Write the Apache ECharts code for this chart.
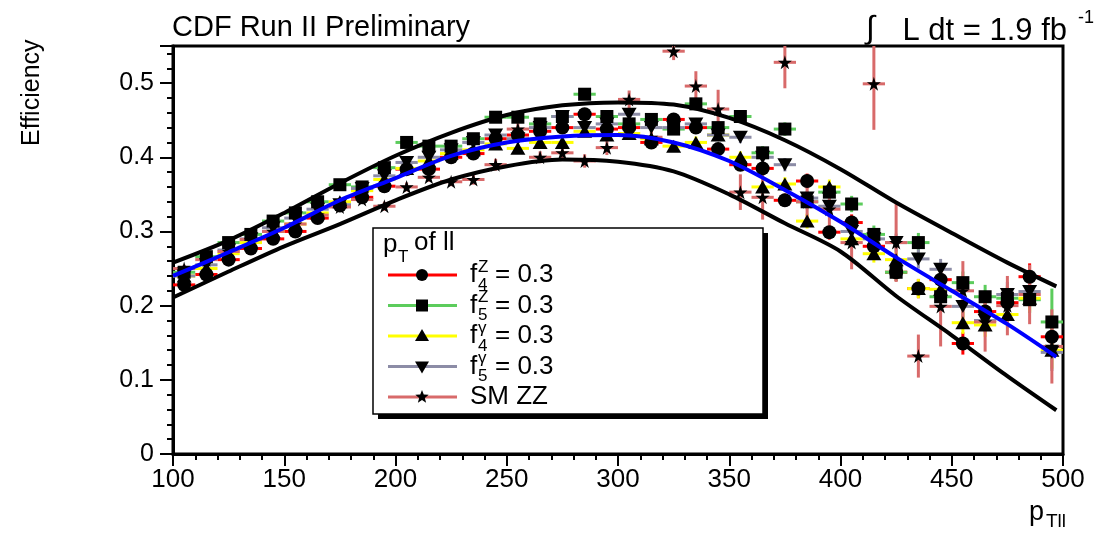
<!DOCTYPE html>
<html><head><meta charset="utf-8">
<script src="https://cdn.jsdelivr.net/npm/echarts@6/dist/echarts.min.js"></script>
<style>html,body{margin:0;padding:0;background:#fff}#c{width:1101px;height:534px}</style>
</head><body><div id="c"></div>
<script>
// bin centres (pT of ll, GeV)
const bins = [105,115,125,135,145,155,165,175,185,195,205,215,225,235,245,255,265,275,285,295,
              305,315,325,335,345,355,365,375,385,395,405,415,425,435,445,455,465,475,485,495];
// efficiencies
const f4Z = [0.228,0.242,0.262,0.277,0.290,0.300,0.318,0.335,0.346,0.361,0.384,0.384,0.400,0.405,0.425,0.430,0.435,0.440,0.458,0.438,
             0.440,0.420,0.451,0.440,0.411,0.390,0.385,0.342,0.368,0.299,0.312,0.280,0.245,0.223,0.235,0.149,0.192,0.204,0.239,0.158];
const f5Z = [0.245,0.266,0.285,0.296,0.314,0.325,0.340,0.363,0.360,0.386,0.420,0.415,0.415,0.425,0.454,0.454,0.445,0.455,0.485,0.455,
             0.445,0.451,0.438,0.472,0.440,0.455,0.406,0.438,0.340,0.353,0.337,0.296,0.245,0.285,0.212,0.231,0.212,0.210,0.208,0.178];
const f4g = [0.240,0.250,0.270,0.285,0.300,0.310,0.325,0.340,0.355,0.370,0.385,0.395,0.405,0.410,0.418,0.412,0.420,0.420,0.435,0.430,
             0.432,0.425,0.415,0.420,0.430,0.400,0.360,0.364,0.314,0.360,0.290,0.270,0.262,0.223,0.222,0.177,0.174,0.188,0.210,0.140];
const f5g = [0.240,0.255,0.275,0.290,0.305,0.318,0.330,0.336,0.358,0.375,0.393,0.400,0.410,0.420,0.430,0.425,0.440,0.455,0.440,0.445,
             0.458,0.440,0.440,0.445,0.430,0.427,0.400,0.390,0.345,0.334,0.300,0.290,0.285,0.263,0.249,0.199,0.180,0.215,0.219,0.137];
const smZZ = [0.250,0.262,0.273,0.289,0.300,0.310,0.322,0.333,0.343,0.334,0.360,0.373,0.367,0.370,0.390,0.438,0.400,0.406,0.395,0.413,
              0.478,0.427,0.543,0.496,0.465,0.353,0.346,0.528,0.340,0.330,0.285,0.499,0.285,0.132,0.199,0.220,0.178,0.200,0.215,0.145];
// vertical uncertainties
const errF = [0.004,0.004,0.004,0.004,0.004,0.004,0.004,0.005,0.005,0.005,0.005,0.005,0.005,0.005,0.006,0.006,0.006,0.006,0.006,0.006,
              0.007,0.007,0.007,0.008,0.008,0.008,0.009,0.009,0.010,0.010,0.011,0.012,0.012,0.013,0.014,0.015,0.016,0.017,0.018,0.025];
const errF5Z = [0.004,0.004,0.004,0.004,0.004,0.004,0.004,0.005,0.005,0.005,0.005,0.005,0.005,0.005,0.006,0.006,0.006,0.006,0.006,0.006,
              0.007,0.007,0.007,0.008,0.008,0.008,0.009,0.009,0.010,0.010,0.011,0.012,0.012,0.013,0.014,0.015,0.016,0.017,0.018,0.045];
const errZZ = [0.005,0.005,0.005,0.005,0.005,0.005,0.005,0.005,0.006,0.006,0.006,0.006,0.006,0.007,0.008,0.008,0.008,0.008,0.009,0.010,
               0.012,0.010,0.012,0.020,0.026,0.024,0.030,0.035,0.030,0.030,0.036,0.062,0.053,0.029,0.054,0.040,0.040,0.040,0.040,0.050];
// fitted band curves (knots)
const upperCurve = [[100,0.258],[125,0.288],[150,0.325],[175,0.365],[200,0.402],[225,0.433],[250,0.457],[275,0.470],[300,0.474],
                    [325,0.471],[350,0.453],[375,0.423],[400,0.384],[425,0.339],[450,0.298],[475,0.258],[497,0.226]];
const centralCurve = [[100,0.240],[125,0.272],[150,0.305],[175,0.342],[200,0.372],[225,0.402],[250,0.420],[275,0.428],[300,0.430],
                      [325,0.420],[350,0.395],[375,0.356],[400,0.313],[425,0.265],[450,0.220],[475,0.175],[497,0.131]];
const lowerCurve = [[100,0.211],[125,0.246],[150,0.280],[175,0.310],[200,0.342],[225,0.370],[250,0.388],[275,0.397],[300,0.394],
                    [325,0.381],[350,0.350],[375,0.311],[400,0.273],[425,0.213],[450,0.160],[475,0.105],[497,0.059]];
const yTicks = ['0','0.1','0.2','0.3','0.4','0.5'];

const FONT = "'Liberation Sans', Arial, Helvetica, sans-serif";
const YMAX = 0.55;
const STAR = 'path://M50,0 L61,35 L98,35 L68,57 L79,91 L50,70 L21,91 L32,57 L2,35 L39,35 Z';
const TDOWN = 'path://M0,0 L100,0 L50,87 Z';
const TUP = 'path://M50,0 L100,87 L0,87 Z';

const sets = [
  {name:'f4Z', vals:f4Z, err:errF, color:'#ff0000', symbol:'circle', size:14},
  {name:'f5Z', vals:f5Z, err:errF5Z, color:'#5ccc5c', symbol:'rect', size:13},
  {name:'f4g', vals:f4g, err:errF, color:'#ffff00', symbol:TUP, size:[15,13]},
  {name:'f5g', vals:f5g, err:errF, color:'#8c8ca6', symbol:TDOWN, size:[15,13]},
  {name:'SMZZ', vals:smZZ, err:errZZ, color:'#d86a6a', symbol:STAR, size:[14,14]}
];

function mkErr(color){
  return function(params, api){
    const x = api.value(0), y = api.value(1), e = api.value(2);
    const l = api.coord([x-5, y]), r = api.coord([x+5, y]);
    const t = api.coord([x, Math.min(y+e, YMAX)]), b = api.coord([x, Math.max(y-e, 0)]);
    return {type:'group', children:[
      {type:'line', shape:{x1:l[0],y1:l[1],x2:r[0],y2:r[1]}, style:{stroke:color, lineWidth:3}},
      {type:'line', shape:{x1:t[0],y1:t[1],x2:b[0],y2:b[1]}, style:{stroke:color, lineWidth:3}}
    ]};
  };
}

const series = [];
sets.forEach(s => {
  series.push({type:'custom', name:s.name+'err', renderItem:mkErr(s.color), silent:true, animation:false,
    data: bins.map((b,i)=>[b, s.vals[i], s.err[i]]), encode:{x:0,y:1}, z:2});
  series.push({type:'scatter', name:s.name, symbol:s.symbol, symbolSize:s.size, silent:true, animation:false,
    itemStyle:{color:'#000', opacity:1}, data: bins.map((b,i)=>[b, s.vals[i]]), z:3});
});
[[upperCurve,'#000'],[centralCurve,'#0000ff'],[lowerCurve,'#000']].forEach(([d,c]) => {
  series.push({type:'line', data:d, smooth:0.3, showSymbol:false, symbol:'none', silent:true, animation:false,
    lineStyle:{color:c, width:4}, z:4});
});

// legend (graphic)
const LX = 373, LY = 228, LW = 390, LH = 186;
const legendRows = [
  {color:'#ff0000', sym:'circle', sup:'Z', sub:'4'},
  {color:'#5ccc5c', sym:'rect', sup:'Z', sub:'5'},
  {color:'#ffff00', sym:'tup', sup:'γ', sub:'4'},
  {color:'#8c8ca6', sym:'tdown', sup:'γ', sub:'5'},
  {color:'#d86a6a', sym:'star', text:'SM ZZ'}
];
const T = (x,y,text,size,extra) => Object.assign({type:'text', x:x, y:y, z:12,
  style:Object.assign({text:text, font:size+'px '+FONT, fill:'#000', textVerticalAlign:'middle'}, extra||{})});
const g = [];
g.push({type:'rect', shape:{x:LX+5, y:LY+5, width:LW, height:LH}, style:{fill:'#000'}, z:10});
g.push({type:'rect', shape:{x:LX, y:LY, width:LW, height:LH}, style:{fill:'#fff', stroke:'#000', lineWidth:1.5}, z:11});
g.push(T(LX+10, LY+17, 'p', 26));
g.push(T(LX+25, LY+29, 'T', 17));
g.push(T(LX+41, LY+15, 'of ll', 26));
legendRows.forEach((r,i) => {
  const cy = LY + 47 + i*30.5;
  g.push({type:'line', shape:{x1:LX+15, y1:cy, x2:LX+84, y2:cy}, style:{stroke:r.color, lineWidth:3}, z:12});
  const cx = LX+49;
  let shape;
  if (r.sym==='circle') shape = {type:'circle', shape:{cx:cx, cy:cy, r:6}, style:{fill:'#000'}, z:13};
  else if (r.sym==='rect') shape = {type:'rect', shape:{x:cx-6, y:cy-6, width:12, height:12}, style:{fill:'#000'}, z:13};
  else if (r.sym==='tup') shape = {type:'polygon', shape:{points:[[cx,cy-7],[cx+7,cy+5],[cx-7,cy+5]]}, style:{fill:'#000'}, z:13};
  else if (r.sym==='tdown') shape = {type:'polygon', shape:{points:[[cx-7,cy-5],[cx+7,cy-5],[cx,cy+7]]}, style:{fill:'#000'}, z:13};
  else {
    const pts=[]; for(let k=0;k<10;k++){const a=-Math.PI/2+k*Math.PI/5; const rr=(k%2===0)?7:3; pts.push([cx+rr*Math.cos(a), cy+rr*Math.sin(a)]);}
    shape = {type:'polygon', shape:{points:pts}, style:{fill:'#000'}, z:13};
  }
  g.push(shape);
  const tx = LX+97;
  if (r.text) {
    g.push(T(tx, cy, r.text, 26));
  } else {
    g.push(T(tx, cy, 'f', 26));
    g.push(T(tx+8, cy-8, r.sup, 17));
    g.push(T(tx+8, cy+10, r.sub, 17));
    g.push(T(tx+25, cy, '= 0.3', 26));
  }
});
// titles
g.push(T(172, 28, 'CDF Run II Preliminary', 29));
g.push(T(866, 29, '∫', 32));
g.push(T(1067, 31, 'L dt = 1.9 fb', 31, {textAlign:'right'}));
g.push(T(1094, 18, '-1', 18, {textAlign:'right'}));
g.push(T(1029, 513, 'p', 27));
g.push(T(1046, 522, 'Tll', 19));
g.push({type:'text', x:32, y:146, rotation:Math.PI/2, z:12,
  style:{text:'Efficiency', font:'25px '+FONT, fill:'#000', textVerticalAlign:'middle', textAlign:'left'}});

const chart = echarts.init(document.getElementById('c'), null, {renderer:'canvas'});
chart.setOption({
  animation:false,
  backgroundColor:'#fff',
  grid:{left:173, right:38, top:46, bottom:80, show:true, borderColor:'#000', borderWidth:3, backgroundColor:'transparent'},
  xAxis:{type:'value', min:100, max:500, interval:50,
    axisLine:{show:true, onZero:false, lineStyle:{color:'#000', width:3}},
    axisTick:{show:true, inside:false, length:12, lineStyle:{color:'#000', width:2}},
    minorTick:{show:true, splitNumber:5, length:6, lineStyle:{color:'#000', width:2}},
    splitLine:{show:false},
    axisLabel:{color:'#000', fontSize:26, fontFamily:FONT, margin:13}
  },
  yAxis:{type:'value', min:0, max:YMAX, interval:0.1,
    axisLine:{show:true, onZero:false, lineStyle:{color:'#000', width:3}},
    axisTick:{show:true, inside:false, length:13, lineStyle:{color:'#000', width:2}},
    minorTick:{show:true, splitNumber:5, length:6, lineStyle:{color:'#000', width:2}},
    splitLine:{show:false},
    axisLabel:{color:'#000', fontSize:25, fontFamily:FONT, margin:19, showMaxLabel:false,
      formatter: v => { const k = Math.round(v*10); return Math.abs(v*10-k)<1e-6 && k < yTicks.length ? yTicks[k] : ''; }}
  },
  series: series,
  graphic: g
});
</script></body></html>
